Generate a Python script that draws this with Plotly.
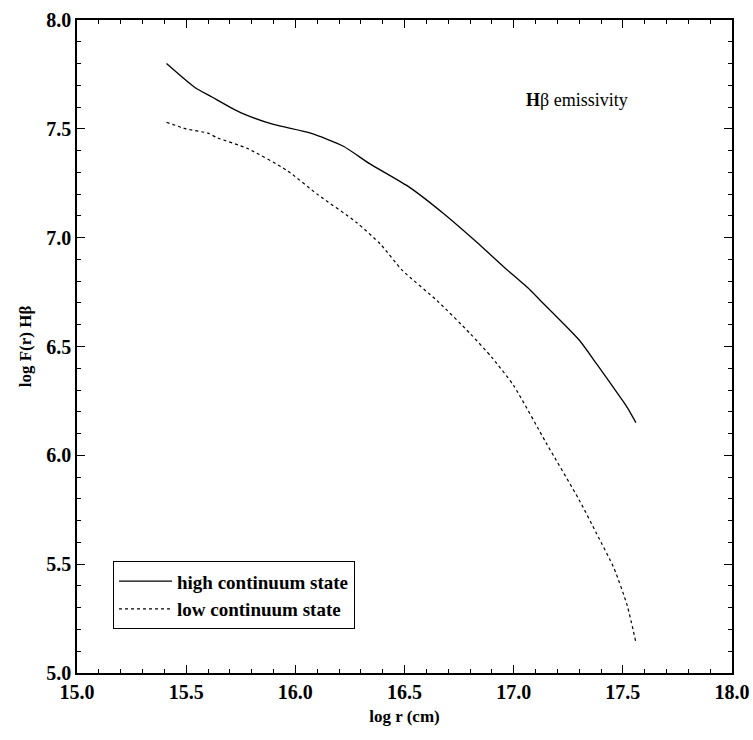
import plotly.graph_objects as go

high_x = [15.41, 15.54, 15.62, 15.70, 15.76, 15.90, 16.07, 16.22, 16.34, 16.525, 16.68, 16.83, 16.95, 17.075, 17.12, 17.30, 17.38, 17.50, 17.52, 17.56]
high_y = [7.80, 7.69, 7.645, 7.60, 7.57, 7.52, 7.48, 7.42, 7.34, 7.23, 7.11, 6.98, 6.87, 6.76, 6.714, 6.53, 6.42, 6.25, 6.22, 6.15]

low_x = [15.41, 15.50, 15.60, 15.64, 15.78, 15.96, 16.10, 16.28, 16.39, 16.49, 16.65, 16.80, 16.90, 17.00, 17.15, 17.30, 17.38, 17.46, 17.52, 17.56]
low_y = [7.53, 7.50, 7.48, 7.46, 7.41, 7.31, 7.20, 7.07, 6.97, 6.85, 6.71, 6.56, 6.45, 6.32, 6.055, 5.795, 5.64, 5.48, 5.31, 5.14]

x_range = [15.0, 18.0]
y_range = [5.0, 8.0]
major_step = 0.5
minor_step = 0.1

font_family = "Liberation Serif, Times New Roman, Times, serif"

fig = go.Figure()
fig.add_trace(go.Scatter(x=high_x, y=high_y, mode="lines", name="high continuum state",
                         line=dict(color="black", width=1.3, dash="solid", shape="spline", smoothing=0.6)))
fig.add_trace(go.Scatter(x=low_x, y=low_y, mode="lines", name="low continuum state",
                         line=dict(color="black", width=1.2, dash="dot", shape="spline", smoothing=0.6)))

fig.update_xaxes(range=x_range, showgrid=False, zeroline=False,
                 showline=True, linecolor="black", linewidth=1.5, mirror="allticks",
                 ticks="inside", ticklen=8, tickwidth=1.2, tickcolor="#000000",
                 tick0=x_range[0], dtick=major_step, tickformat=".1f",
                 minor=dict(ticks="inside", ticklen=4, tickwidth=1.2, tickcolor="#000000", dtick=minor_step),
                 tickfont=dict(family=font_family, size=20, color="black", weight="bold"),
                 title=dict(text="<b>log r (cm)</b>", font=dict(family=font_family, size=17, color="black"), standoff=8),
                 automargin=False)
fig.update_yaxes(range=y_range, showgrid=False, zeroline=False,
                 showline=True, linecolor="black", linewidth=1.5, mirror="allticks",
                 ticks="inside", ticklen=8, tickwidth=1.2, tickcolor="#000000",
                 tick0=y_range[0], dtick=major_step, tickformat=".1f",
                 minor=dict(ticks="inside", ticklen=4, tickwidth=1.2, tickcolor="#000000", dtick=minor_step),
                 tickfont=dict(family=font_family, size=20, color="black", weight="bold"),
                 title=dict(text="<b>log F(r) Hβ</b>", font=dict(family=font_family, size=17, color="black"), standoff=10),
                 automargin=False)

fig.add_annotation(x=0.763, y=0.877, xref="paper", yref="paper", showarrow=False,
                   xanchor="center", yanchor="middle",
                   text="<b>H</b>β emissivity",
                   font=dict(family=font_family, size=18, color="black"))

fig.update_layout(
    width=753, height=740,
    margin=dict(l=77, r=21, t=20, b=67),
    paper_bgcolor="white", plot_bgcolor="white",
    showlegend=True,
    legend=dict(x=0.055, y=0.067, xanchor="left", yanchor="bottom",
                bordercolor="black", borderwidth=1, bgcolor="white",
                font=dict(family=font_family, size=19, color="black", weight="bold"),
                tracegroupgap=0, itemwidth=53),
)

fig.write_html("out.html")
